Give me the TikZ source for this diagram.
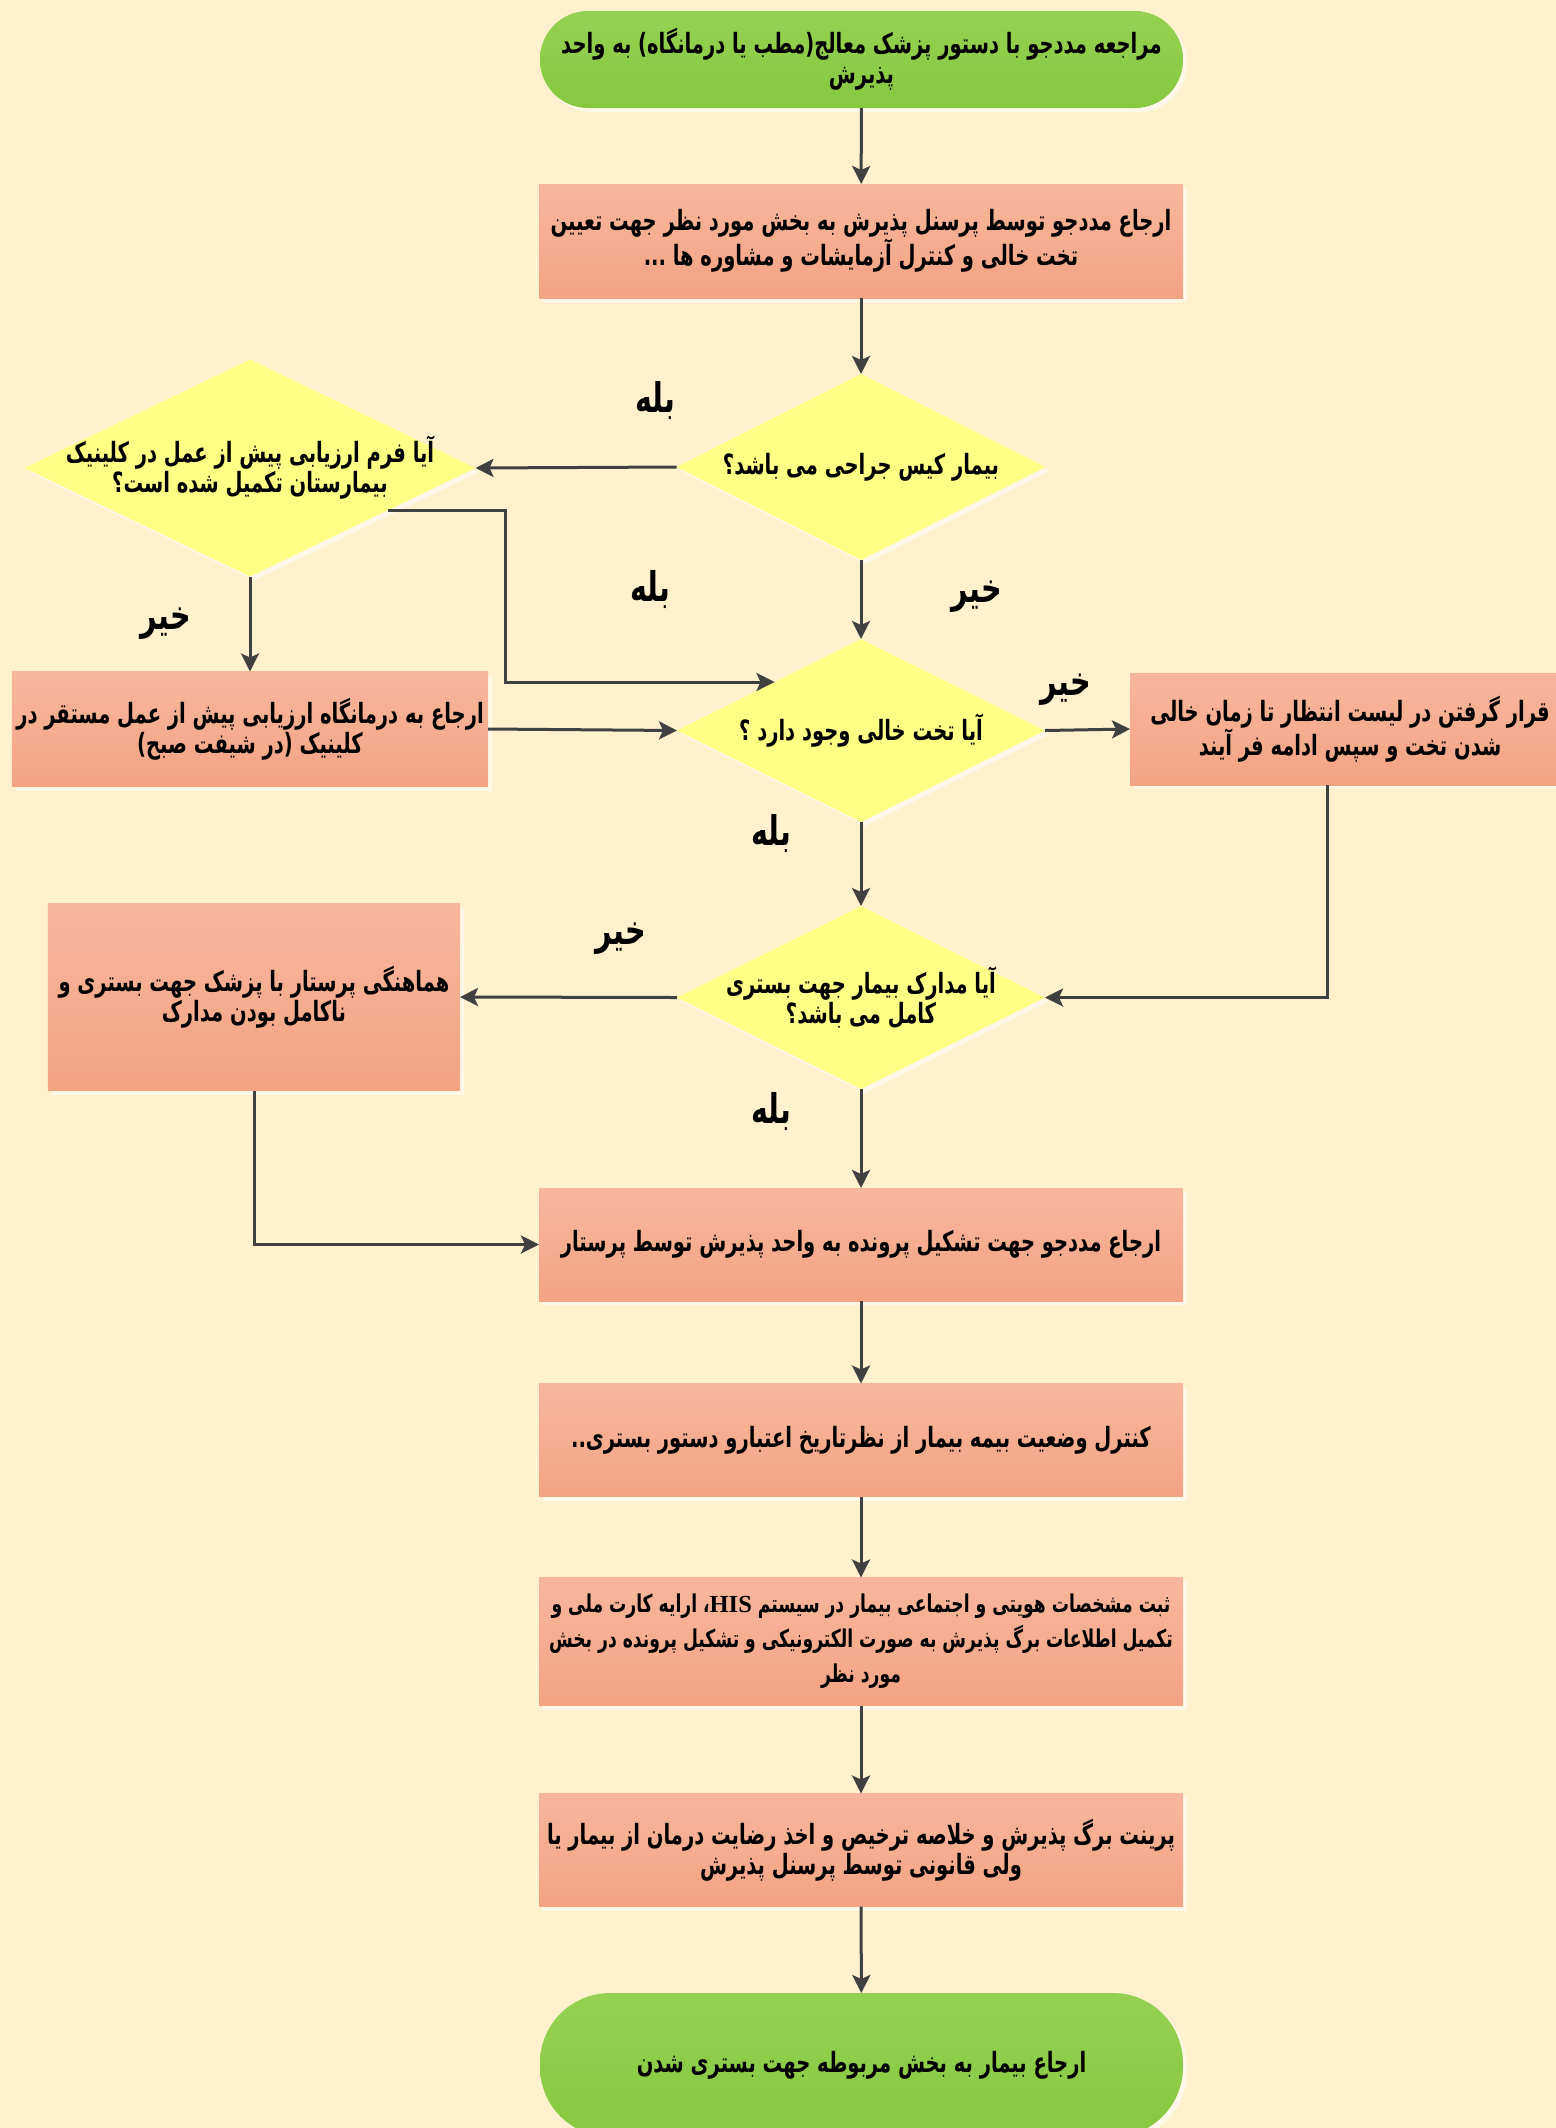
\documentclass[tikz,border=0pt]{standalone}
\usepackage{fontspec}
\TeXXeTstate=1
\newfontfamily\fa[Script=Arabic, FakeStretch=0.70]{DejaVu Sans}
\newfontfamily\lat{Liberation Serif}
\usetikzlibrary{arrows.meta,shapes.geometric,shadows,calc}

\definecolor{bg}{HTML}{FFF1CE}
\definecolor{salmonT}{HTML}{F7B79C}
\definecolor{salmonB}{HTML}{F4A383}
\definecolor{greenT}{HTML}{95D152}
\definecolor{greenB}{HTML}{86C83F}
\definecolor{yel}{HTML}{FFFF85}
\definecolor{lineg}{HTML}{404040}
\definecolor{glow}{HTML}{FFF8E8}

% one right-to-left line
\newcommand\rl[1]{\beginR #1\endR}
\newcommand\his{\beginL{\lat HIS}\endL}

\tikzset{
  base/.style={inner sep=0pt, outer sep=0pt, align=center,
    font=\fa\bfseries\fontsize{28}{30}\selectfont,
    drop shadow={shadow xshift=4bp, shadow yshift=-4bp, fill=glow, opacity=1}},
  stepbox/.style={base, rectangle, top color=salmonT, bottom color=salmonB},
  term/.style={base, rectangle, top color=greenT, bottom color=greenB},
  dia/.style={base, diamond, fill=yel},
  dtext/.style={inner sep=0pt, align=center, font=\fa\bfseries\fontsize{28}{30}\selectfont},
  lab/.style={inner sep=0pt, font=\fa\bfseries\fontsize{41}{44}\selectfont},
  arr/.style={draw=lineg, line width=3bp, -{Stealth[length=18bp, width=18bp, inset=4bp]}}
}

\begin{document}
\begin{tikzpicture}[x=1bp, y=-1bp]
\fill[bg] (0,0) rectangle (1556,2128);
\useasboundingbox (0,0) rectangle (1556,2128);

% main column
\node[term, minimum width=643bp, minimum height=97bp, rounded corners=48bp] (S) at (861.5,59.5)
  {\rl{مراجعه  مددجو با دستور پزشک معالج(مطب یا درمانگاه) به واحد}\\ \rl{پذیرش}};
\node[stepbox, minimum width=644bp, minimum height=114bp] (B1) at (861,241)
  {\rl{ارجاع مددجو توسط پرسنل پذیرش  به بخش مورد نظر جهت تعیین}\\ \rl{تخت خالی و کنترل آزمایشات و مشاوره ها ...}};
\node[dia, minimum width=369bp, minimum height=186bp] (D1) at (861,467) {};
\node[dtext] (D1t) at (D1) {\rl{بیمار کیس جراحی می باشد؟}};

\node[dia, minimum width=451bp, minimum height=217bp] (D2) at (250,468) {};
\node[dtext] (D2t) at (D2) {\rl{آیا فرم ارزیابی پیش از عمل در کلینیک}\\ \rl{بیمارستان تکمیل شده است؟}};

\node[stepbox, minimum width=476bp, minimum height=115bp] (BC) at (250,729)
  {\rl{ارجاع  به درمانگاه ارزیابی پیش از عمل مستقر در}\\ \rl{کلینیک (در شیفت صبح)}};

\node[dia, minimum width=368bp, minimum height=183bp] (D3) at (861,730.5) {};
\node[dtext] (D3t) at (D3) {\rl{آیا تخت خالی وجود دارد ؟}};

\node[stepbox, minimum width=440bp, minimum height=112bp, anchor=west] (BW) at (1130,729)
  {\rl{قرار گرفتن در لیست انتظار تا زمان خالی}\\ \rl{شدن تخت و سپس ادامه فر آیند}};

\node[dia, minimum width=368bp, minimum height=183bp] (D4) at (861,997.5) {};
\node[dtext] (D4t) at (D4) {\rl{آیا مدارک  بیمار جهت بستری}\\ \rl{کامل می باشد؟}};

\node[stepbox, minimum width=412bp, minimum height=187bp] (BK) at (254,997)
  {\rl{هماهنگی پرستار با پزشک جهت بستری  و}\\ \rl{ناکامل بودن مدارک}};

\node[stepbox, minimum width=644bp, minimum height=113bp] (BF) at (861,1244.5)
  {\rl{ارجاع مددجو جهت تشکیل پرونده به واحد پذیرش توسط پرستار}};
\node[stepbox, minimum width=644bp, minimum height=113bp] (BI) at (861,1440)
  {\rl{کنترل وضعیت بیمه بیمار از نظرتاریخ اعتبارو دستور بستری..}};
\node[stepbox, minimum width=644bp, minimum height=128bp,
      font=\fa\bfseries\fontsize{24.6}{35}\selectfont] (BH) at (861,1641.5)
  {\rl{ثبت مشخصات هویتی و اجتماعی بیمار در سیستم \his، ارایه کارت ملی و}\\
   \rl{تکمیل اطلاعات برگ پذیرش به صورت الکترونیکی  و تشکیل پرونده در بخش}\\
   \rl{مورد نظر}};
\node[stepbox, minimum width=644bp, minimum height=113bp] (BP) at (861,1850)
  {\rl{پرینت برگ پذیرش و خلاصه ترخیص و اخذ رضایت درمان از بیمار یا}\\ \rl{ولی قانونی توسط پرسنل پذیرش}};
\node[term, minimum width=643bp, minimum height=144bp, rounded corners=70bp] (E) at (861.5,2065)
  {\rl{ارجاع بیمار به بخش مربوطه جهت بستری شدن}};

% branch labels
\node[lab] (L1) at (655,401) {\rl{بله}};
\node[lab] (L2) at (650,590) {\rl{بله}};
\node[lab] (L3) at (977,597) {\rl{خیر}};
\node[lab] (L4) at (166,624) {\rl{خیر}};
\node[lab] (L5) at (1066,690) {\rl{خیر}};
\node[lab] (L6) at (771,834) {\rl{بله}};
\node[lab] (L7) at (621,939) {\rl{خیر}};
\node[lab] (L8) at (771,1112) {\rl{بله}};

% connectors
\draw[arr] (S) -- (B1);
\draw[arr] (B1) -- (D1);
\draw[arr] (D1.west) -- (D2.east);
\draw[arr] (D1.south) -- (D3.north);
\draw[arr] (D2.south) -- (BC.north);
\coordinate (p1) at ($(D2.east)!0.39!(D2.south)$);
\coordinate (p2) at ($(D3.west)!0.53!(D3.north)$);
\draw[arr] (p1) -- ++(118,0) |- (p2);
\draw[arr] (BC.east) -- (D3.west);
\draw[arr] (D3.east) -- (BW.west);
\coordinate (p3) at (1327,785);
\draw[arr] (p3) |- (D4.east);
\draw[arr] (D3.south) -- (D4.north);
\draw[arr] (D4.west) -- (BK.east);
\draw[arr] (D4.south) -- (BF.north);
\draw[arr] (BK.south) |- (BF.west);
\draw[arr] (BF) -- (BI);
\draw[arr] (BI) -- (BH);
\draw[arr] (BH) -- (BP);
\draw[arr] (BP) -- (E);
\end{tikzpicture}
\end{document}
